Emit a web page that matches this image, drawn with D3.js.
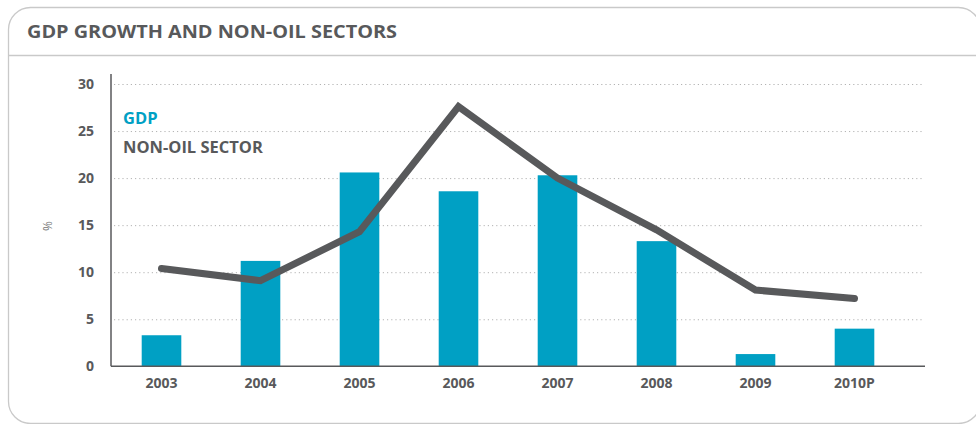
<!DOCTYPE html>
<html>
<head>
<meta charset="utf-8">
<script src="https://cdn.jsdelivr.net/npm/d3@7"></script>
<style>
  html, body { margin: 0; padding: 0; background: #ffffff; }
  svg { display: block; font-family: "Open Sans", "Noto Sans", sans-serif; }
</style>
</head>
<body>
<svg id="chart" width="976" height="424"></svg>
<script>
// Annual growth, percent
const years = ["2003", "2004", "2005", "2006", "2007", "2008", "2009", "2010P"];
const gdpGrowth = [3.3, 11.2, 20.6, 18.6, 20.3, 13.3, 1.3, 4.0];
const nonOilGrowth = [10.4, 9.1, 14.3, 27.6, 20.0, 14.5, 8.1, 7.2];
const yTicks = [0, 5, 10, 15, 20, 25, 30];

const title = "GDP GROWTH AND NON-OIL SECTORS";
const legendItems = ["GDP", "NON-OIL SECTOR"];

const teal = "#00a0c4";
const grey = "#58595b";
const frame = "#c9c9c9";

const svg = d3.select("#chart");

// Panel frame with rounded corners and header rule
svg.append("rect")
  .attr("x", 8.5).attr("y", 7.5)
  .attr("width", 972).attr("height", 416)
  .attr("rx", 22).attr("ry", 22)
  .attr("fill", "none").attr("stroke", frame).attr("stroke-width", 1.3);

svg.append("line")
  .attr("x1", 8.5).attr("x2", 976)
  .attr("y1", 55.5).attr("y2", 55.5)
  .attr("stroke", frame).attr("stroke-width", 1.3);

svg.append("text")
  .attr("x", 27).attr("y", 37.5)
  .attr("font-size", 18).attr("font-weight", 700)
  .attr("fill", grey)
  .attr("textLength", 370).attr("lengthAdjust", "spacingAndGlyphs")
  .text(title);

// Scales
const x = d3.scaleBand()
  .domain(years)
  .range([112, 904])
  .paddingInner(0.6)
  .paddingOuter(0.3);

const y = d3.scaleLinear()
  .domain([0, 30])
  .range([366.3, 84]);

const left = 111, right = 923;

// Dotted gridlines
svg.append("g")
  .selectAll("line")
  .data(yTicks.filter(t => t > 0))
  .join("line")
  .attr("x1", left + 3).attr("x2", right)
  .attr("y1", d => y(d) + 0.5).attr("y2", d => y(d) + 0.5)
  .attr("stroke", "#b3b3b3")
  .attr("stroke-width", 1)
  .attr("stroke-dasharray", "1.2,3");

// Y axis
const yAxis = svg.append("g")
  .attr("transform", `translate(${left},0)`)
  .call(d3.axisLeft(y).tickValues(yTicks).tickSize(0).tickPadding(17));
yAxis.select(".domain").remove();
yAxis.selectAll("text")
  .attr("font-family", "'Open Sans', sans-serif")
  .attr("font-size", 14).attr("font-weight", 700)
  .attr("fill", grey);

svg.append("line")
  .attr("x1", left).attr("x2", left)
  .attr("y1", 74).attr("y2", y(0))
  .attr("stroke", grey).attr("stroke-width", 1.5);

svg.append("text")
  .attr("transform", "translate(52,226) rotate(-90)")
  .attr("text-anchor", "middle")
  .attr("font-size", 12)
  .attr("fill", "#7a7a7a")
  .text("%");

// Bars
svg.append("g")
  .selectAll("rect")
  .data(years.map((yr, i) => ({ yr, v: gdpGrowth[i] })))
  .join("rect")
  .attr("x", d => x(d.yr))
  .attr("width", x.bandwidth())
  .attr("y", d => y(d.v))
  .attr("height", d => y(0) - y(d.v))
  .attr("fill", teal);

// Baseline
svg.append("line")
  .attr("x1", left).attr("x2", 925)
  .attr("y1", y(0)).attr("y2", y(0))
  .attr("stroke", grey).attr("stroke-width", 1.5);

// X axis labels
const xAxis = svg.append("g")
  .attr("transform", `translate(0,${y(0)})`)
  .call(d3.axisBottom(x).tickSize(0).tickPadding(12));
xAxis.select(".domain").remove();
xAxis.selectAll("text")
  .attr("font-family", "'Open Sans', sans-serif")
  .attr("font-size", 14).attr("font-weight", 700)
  .attr("fill", grey);

// Non-oil sector line
const line = d3.line()
  .x((d, i) => x(years[i]) + x.bandwidth() / 2)
  .y(d => y(d));

svg.append("path")
  .datum(nonOilGrowth)
  .attr("d", line)
  .attr("fill", "none")
  .attr("stroke", grey)
  .attr("stroke-width", 7)
  .attr("stroke-linecap", "round")
  .attr("stroke-linejoin", "miter");

// Legend
svg.append("g")
  .selectAll("text")
  .data(legendItems)
  .join("text")
  .attr("x", 123)
  .attr("y", (d, i) => 123.5 + i * 29.5)
  .attr("font-size", 16.5).attr("font-weight", 700)
  .attr("fill", (d, i) => i === 0 ? teal : grey)
  .text(d => d);
</script>
</body>
</html>
